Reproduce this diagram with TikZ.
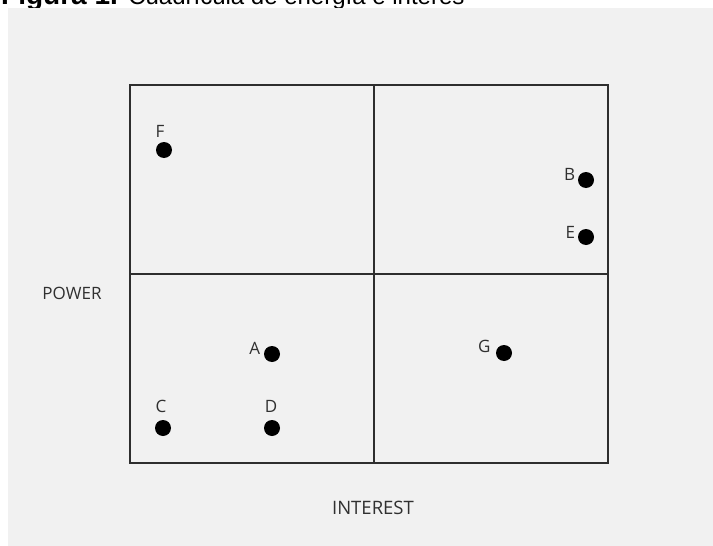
\documentclass[tikz,border=0pt]{standalone}
\usepackage{fontspec}
\setmainfont{Open Sans}
\newfontfamily\titlefont{Liberation Sans}
\usepackage{tikz}
\usetikzlibrary{positioning}

\definecolor{bggray}{HTML}{F1F1F1}
\definecolor{linegray}{HTML}{2E2E2E}
\definecolor{txtgray}{HTML}{303030}

\begin{document}
\begin{tikzpicture}[
  x=1pt, y=-1pt,
  font=\fontsize{17}{20}\selectfont,
  frame/.style={draw=linegray, line width=1.6pt},
  dot/.style={circle, fill=black, minimum size=16pt, inner sep=0pt},
  lbl/.style={inner sep=0pt, text=txtgray},
  axis/.style={inner sep=0pt, text=txtgray},
]
\useasboundingbox (0,0) rectangle (713,546);

% ---------------- title (cut off by the page top) + backdrop ----------------
\node[anchor=base west, inner sep=0pt, font=\titlefont\fontsize{28}{32}\selectfont] (title) at (1,5)
  {\textbf{Figura 1.} {\fontsize{24}{28}\selectfont Cuadrícula de energía e interés}};
\fill[bggray] (8,8) rectangle (713,546);

% ---------------- quadrant grid ----------------
\coordinate (nw) at (130,85);
\coordinate (se) at (608,463);
\coordinate (mid) at (374,274);
\draw[frame] (nw) rectangle (se);
\draw[frame] (mid |- nw) -- (mid |- se);
\draw[frame] (nw |- mid) -- (se |- mid);

% ---------------- axis labels ----------------
\node[axis] (power)    at (72,293)  {POWER};
\node[axis, font=\fontsize{18.5}{22}\selectfont] (interest) at (373,508) {INTEREST};

% ---------------- stakeholders ----------------
\node[dot] (dotF) at (164,150) {};
\node[dot] (dotB) at (586,180) {};
\node[dot] (dotE) at (586,237) {};
\node[dot] (dotA) at (272,354) {};
\node[dot] (dotG) at (504,353) {};
\node[dot] (dotC) at (163,428) {};
\node[dot] (dotD) at (272,428) {};

\node[lbl, above=4pt of dotF, xshift=-4pt] (lblF) {F};
\node[lbl, left=2.5pt of dotB, yshift=6pt] (lblB) {B};
\node[lbl, left=2.5pt of dotE, yshift=5pt] (lblE) {E};
\node[lbl, left=3.5pt of dotA, yshift=6pt] (lblA) {A};
\node[lbl, left=5pt of dotG, yshift=7pt]   (lblG) {G};
\node[lbl, above=7pt of dotC, xshift=-2pt] (lblC) {C};
\node[lbl, above=7pt of dotD, xshift=-1pt] (lblD) {D};

\end{tikzpicture}
\end{document}
